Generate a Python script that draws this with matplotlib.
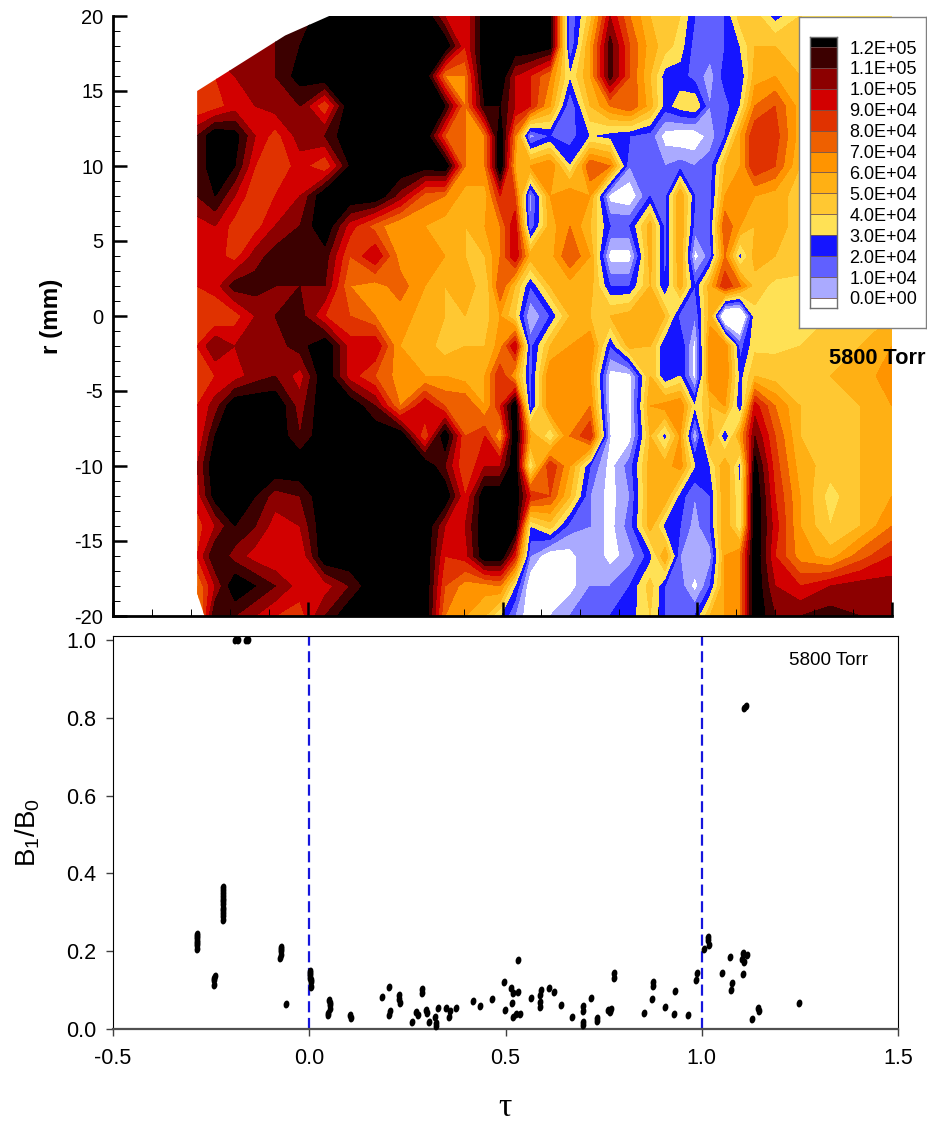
import numpy as np
import matplotlib
matplotlib.use('Agg')
import matplotlib.pyplot as plt
from matplotlib.colors import ListedColormap, BoundaryNorm
from matplotlib.patches import Polygon
from matplotlib.path import Path
from matplotlib.ticker import MultipleLocator
from matplotlib.transforms import Affine2D

plt.rcParams['font.family'] = ['Liberation Sans', 'DejaVu Sans']
plt.rcParams['axes.unicode_minus'] = False

W, H = 928, 1122

# contour grid, pressure in units of 1e4
tau_grid = [-0.284, -0.238, -0.187, -0.135, -0.084, -0.020, 0.044, 0.108, 0.173, 0.237, 0.301, 0.352,
            0.404, 0.455, 0.494, 0.532, 0.571, 0.622, 0.673, 0.725, 0.776, 0.827, 0.879, 0.917, 0.956,
            0.994, 1.033, 1.071, 1.110, 1.148, 1.200, 1.264, 1.341, 1.418, 1.500]
r_grid = [20, 18, 16, 14, 12, 10, 8, 6, 4, 2, 0, -2, -4, -6, -8, -10, -12, -14, -16, -18, -20]
p_grid = [
    [10, 10.5, 10.5, 10.5, 11, 11.5, 12.5, 13, 13, 13, 13, 10, 9, 13, 13, 13, 13, 12.5, 1, 4.5, 10, 7, 5, 4.5, 4, 2, 1.5, 2, 4.5, 4.5, 2.5, 4, 4, 4, 4],
    [10, 10.5, 10.5, 11, 11, 12, 12.3, 13, 13, 13, 13, 13, 9, 13, 13, 13, 13, 12.5, 1, 6, 11.5, 8, 5.5, 4.5, 3.5, 1.5, 1.5, 2, 3, 5, 5, 4.5, 4, 4, 4],
    [9, 9, 10, 10.5, 11, 12.5, 13, 13, 13, 13, 13, 7, 7, 13, 13, 10, 9, 7, 3, 6, 11.5, 8, 5, 2.5, 2.5, 1.5, 0.5, 2.5, 2, 5.5, 6, 5, 4.5, 4, 4],
    [8, 8.5, 9.5, 10, 10.5, 11, 8, 13, 13, 13, 13, 12, 7, 12, 12, 10, 9, 6, 1, 5, 7, 8, 5.5, 2.5, 3.5, 4, 1, 1.5, 3, 7, 8, 5.5, 4.5, 4, 4],
    [11, 13, 12.5, 10, 8.5, 10.5, 11, 13, 13, 13, 13, 8, 7, 7, 13, 7, 0.5, 2, 1.5, 3, 2.5, 2, 1.5, -0.5, -1, -1, 0.5, 2, 6, 9, 8.5, 5.5, 4.5, 4, 4],
    [11, 13, 12, 9, 8, 9.5, 8, 12, 13, 13, 12.5, 13, 7, 7, 13, 6, 6, 7, 3, 8, 7, 1, 1.5, 1, 1.5, 1, 1.5, 5, 6, 9, 8, 5, 4.5, 4, 4],
    [11, 12, 10, 8, 9, 10, 13, 13, 13, 10.5, 7.5, 7, 5.5, 5.5, 9, 8, 0.5, 6, 7, 6, -0.5, -1, 2, 1.5, 6, 2, 1.5, 6, 6.5, 6, 5.5, 4.5, 4, 4, 4],
    [9.5, 10, 8.5, 8.5, 10, 11, 13, 9.5, 7.5, 6, 6, 5.5, 5, 6, 7, 10, 1, 5.5, 7, 5, 2, 2, 5.5, 1.5, 6, 1.5, 2, 8, 6, 5, 5.5, 4.5, 4, 4, 4],
    [9.5, 9.5, 8.5, 10.5, 11.5, 11.5, 11.5, 8, 10, 6.5, 6.5, 6, 5, 5, 7, 10, 5.5, 5.5, 8, 6, -0.5, -0.5, 5.5, 1.5, 6, -0.5, 1.5, 7, 2.5, 5.5, 5, 4.5, 4, 4, 4],
    [9, 9.5, 11.5, 11.5, 11, 11, 11, 7, 6.5, 7.5, 6, 5, 6, 4, 8, 5, 2, 5, 5.5, 5.5, 2, 2, 5, 2, 5.5, 2, 5.5, 9, 7, 4.5, 3.7, 3.7, 3.8, 4, 4.5],
    [8, 8, 8.5, 10, 11, 11.5, 9, 8, 7, 6.5, 5.5, 5, 5, 4.5, 6, 4, 0, 2, 5, 5, 5, 5.5, 6, 5, 1.5, 1, 5.5, -3, -3, 3.7, 3.7, 3.7, 4, 4.5, 5],
    [9, 11, 10, 10.5, 10.5, 11.5, 13, 9.5, 10, 6, 5.5, 4.5, 5, 5, 6.5, 10, 1.5, 5, 6, 7, 2, 5.5, 5, 2, 3, -0.5, 7, 7, 1.5, 3.7, 3.8, 4, 4.5, 5, 6],
    [9, 9, 9.5, 10.5, 11, 9.5, 13, 9.5, 8, 6.5, 6, 6, 5.5, 6, 9, 6, 1.5, 7, 6.5, 6, -0.5, -0.5, 5, 2, 3, -0.5, 7, 7, 2.5, 5, 4.5, 4.5, 5, 5.5, 6.5],
    [9, 10.5, 13, 13, 13, 10.5, 13, 13, 11, 7, 10, 8, 8, 6, 9, 13, 1.5, 7, 7, 7, -0.5, -0.5, 6, 6.5, 7, 3, 5, 6, 2, 9.5, 7, 5, 4.5, 5, 6],
    [9, 12, 13, 13, 13, 11, 13, 13, 13, 13, 8, 13, 8, 9, 6, 13, 6, 3, 7, 9, 0, -0.5, 5, 2.5, 6, 0, 6, 2, 6, 11, 8, 5, 4.5, 5, 6],
    [10, 13, 13, 13, 13, 13, 13, 13, 13, 13, 13, 11, 8, 10, 10, 13, 3, 9, 6, 2, -0.5, 1.5, 5.5, 5.5, 6.5, 3, 3, 6, 2.5, 12.5, 8.5, 5.5, 4.5, 5, 6],
    [9.5, 12.5, 13, 12, 10.5, 11, 13, 13, 13, 13, 13, 13, 9, 13, 13, 13, 9, 8, 5, 1, -0.5, 1, 5.5, 6, 2.5, 1, 2, 6, 3, 13, 9, 6, 3.5, 5, 6],
    [8.5, 10, 12, 11, 9.5, 10, 13, 13, 13, 13, 13, 10, 10, 13, 13, 13, 3, 4.5, 1.5, 1, -0.5, 1.5, 5.5, 2.5, 2, 0.5, 2, 6, 3, 13, 9.5, 6, 4, 5, 7],
    [9, 12, 10.5, 9.5, 9, 9, 13, 13, 13, 13, 13, 9, 9.5, 13, 13, 9, 1, -1, -0.5, 1, -0.5, 0.5, 2.5, 6, 1, 1, 0.5, 6, 7, 13, 9, 6.5, 5.5, 7.5, 9],
    [7, 10, 13, 12, 11, 9.5, 9.5, 11, 13, 13, 13, 8, 6.5, 6.5, 7, 3, -1, -1, -0.5, 1, 1, 2, 4.5, 2, 1.5, -0.5, 2, 6, 7, 13, 10, 9, 10, 10.5, 10.5],
    [6, 12, 11, 10, 9, 8.5, 11, 13, 13, 13, 13, 7, 6, 5, 3, 1, -1, 0, 1, 2, 2, 2.5, 4, 2, 2, 2, 5, 6, 7, 13, 11, 11, 11.5, 11, 11],
]
outline_tau = [-0.284, -0.284, -0.058, 0.055, 1.5, 1.5, -0.265, -0.284]
outline_r = [-18.5, 15, 18.7, 20, 20, -20, -20, -18.5]

levels = np.arange(0, 13)
band_colors = ['#aaaaff', '#6060ff', '#1515ff', '#ffe155', '#ffc832', '#ffb014',
               '#ff9400', '#ee6000', '#e03200', '#d20000', '#8c0000', '#3c0000']
legend_labels = ['0.0E+00', '1.0E+04', '2.0E+04', '3.0E+04', '4.0E+04', '5.0E+04', '6.0E+04',
                 '7.0E+04', '8.0E+04', '9.0E+04', '1.0E+05', '1.1E+05', '1.2E+05']

# B1/B0 scatter, one list per axis
tau_pts = [-0.219, -0.219, -0.219, -0.220, -0.220, -0.221, -0.221,
           -0.286, -0.286, -0.286, -0.287, -0.287,
           -0.241, -0.242, -0.243, -0.071, -0.072, -0.073, -0.074, -0.060,
           0.002, 0.003, 0.003, 0.004, 0.004, 0.051, 0.052, 0.052, 0.047, 0.047,
           0.105, 0.107, 0.185, 0.203, 0.228, 0.229, 0.230, 0.206, 0.204, 0.288, 0.286,
           0.271, 0.278, 0.297, 0.301, 0.263, 0.305, 0.320, 0.322, 0.322, 0.327,
           0.349, 0.358, 0.355, 0.373, 0.416, 0.436, 0.465, 0.497, 0.498,
           0.514, 0.518, 0.517, 0.520, 0.528, 0.531, 0.531, 0.537, 0.566,
           0.591, 0.588, 0.589, 0.587, 0.612, 0.623, 0.641, 0.669,
           0.697, 0.697, 0.697, 0.697, 0.719, 0.732, 0.733, 0.761, 0.765, 0.768,
           0.777, 0.777, 0.854, 0.874, 0.876, 0.876, 0.906, 0.929, 0.931, 0.964,
           0.989, 0.986, 1.005, 1.016, 1.017, 1.018, 1.051, 1.071,
           1.076, 1.075, 1.105, 1.103, 1.107, 1.116, 1.105, 1.128, 1.144, 1.146, 1.247,
           -0.188, -0.182, -0.161, -0.155, 1.113, 1.108,
           -0.219, -0.220, -0.220, -0.221, -0.221, -0.286, -0.287,
           -0.242, -0.072, 0.003, 0.004, 0.052]
b_pts = [0.365, 0.350, 0.335, 0.320, 0.305, 0.290, 0.280,
         0.245, 0.235, 0.225, 0.215, 0.205,
         0.135, 0.125, 0.113, 0.210, 0.200, 0.190, 0.183, 0.065,
         0.150, 0.140, 0.130, 0.120, 0.108, 0.075, 0.062, 0.052, 0.040, 0.035,
         0.036, 0.027, 0.083, 0.107, 0.087, 0.078, 0.068, 0.046, 0.036, 0.103, 0.092,
         0.043, 0.037, 0.050, 0.040, 0.017, 0.019, 0.030, 0.015, 0.007, 0.054,
         0.053, 0.045, 0.032, 0.053, 0.073, 0.060, 0.076, 0.122, 0.050,
         0.105, 0.092, 0.068, 0.032, 0.038, 0.177, 0.095, 0.039, 0.079,
         0.100, 0.087, 0.070, 0.056, 0.105, 0.096, 0.062, 0.031,
         0.059, 0.047, 0.019, 0.010, 0.080, 0.027, 0.020, 0.050, 0.043, 0.052,
         0.143, 0.130, 0.042, 0.076, 0.122, 0.110, 0.057, 0.039, 0.097, 0.036,
         0.143, 0.126, 0.206, 0.237, 0.229, 0.216, 0.143, 0.184,
         0.119, 0.100, 0.195, 0.179, 0.173, 0.191, 0.141, 0.025, 0.053, 0.047, 0.066,
         1.000, 1.000, 1.000, 1.000, 0.830, 0.825,
         0.358, 0.343, 0.328, 0.312, 0.298, 0.240, 0.220,
         0.130, 0.205, 0.145, 0.125, 0.068]


def px_axes(fig, left, top, right, bottom):
    return fig.add_axes([left / W, 1 - bottom / H, (right - left) / W, (bottom - top) / H])


fig = plt.figure(figsize=(W / 100, H / 100), dpi=100)

cmap = ListedColormap(band_colors)
cmap.set_under('white')
cmap.set_over('black')
norm = BoundaryNorm(levels, cmap.N)

# contour panel
ax1 = px_axes(fig, 113, 16, 892, 616)
cs = ax1.contourf(tau_grid, r_grid, np.array(p_grid), levels=levels, cmap=cmap, norm=norm, extend='both')
outline = Polygon(np.column_stack([outline_tau, outline_r]), transform=ax1.transData)
cs.set_clip_path(outline)
ax1.set_xlim(-0.5, 1.5)
ax1.set_ylim(-20, 20)
ax1.spines['top'].set_visible(False)
ax1.spines['right'].set_visible(False)
ax1.spines['left'].set_linewidth(2)
ax1.spines['bottom'].set_linewidth(2)
ax1.xaxis.set_major_locator(MultipleLocator(0.5))
ax1.xaxis.set_minor_locator(MultipleLocator(0.1))
ax1.yaxis.set_major_locator(MultipleLocator(5))
ax1.yaxis.set_minor_locator(MultipleLocator(1))
ax1.tick_params(which='major', direction='in', length=10, width=1.8, labelsize=14.5, labelbottom=False, pad=7)
ax1.tick_params(which='minor', direction='in', length=5, width=0.7)
fig.text(52 / W, 1 - 316 / H, 'r (mm)', fontsize=17.5, fontweight='bold', rotation=90, ha='center', va='center')

# legend box with the colour bar inside
ax_box = px_axes(fig, 799, 17, 926, 328)
ax_box.set_xticks([])
ax_box.set_yticks([])
for s in ax_box.spines.values():
    s.set_color('#808080')
    s.set_linewidth(1)

ax_leg = px_axes(fig, 810, 37, 837, 308)
edges = np.concatenate([[-0.48], levels, [12.48]])
cell = np.arange(-1, 13) + 0.5
ax_leg.pcolormesh([0, 1], edges, cell.reshape(-1, 1), cmap=cmap, norm=norm)
for v in levels:
    ax_leg.axhline(v, color='#705050', lw=0.6)
ax_leg.set_ylim(edges[0], edges[-1])
ax_leg.set_xticks([])
ax_leg.yaxis.tick_right()
ax_leg.set_yticks(levels)
ax_leg.set_yticklabels(legend_labels, fontsize=13)
ax_leg.tick_params(axis='y', length=0, pad=9)
for s in ax_leg.spines.values():
    s.set_color('#707070')
    s.set_linewidth(1)

fig.text(926 / W, 1 - 359 / H, '5800 Torr', fontsize=15.7, fontweight='bold', ha='right', va='center')

# scatter panel
blob = Path.unit_circle().transformed(Affine2D().scale(0.72, 1).rotate(-0.2))
ax2 = px_axes(fig, 113, 636, 898, 1029)
ax2.axvline(0, color='#1515dd', lw=1.6, ls=(0, (5, 2.5)), zorder=2)
ax2.axvline(1, color='#1515dd', lw=1.6, ls=(0, (5, 2.5)), zorder=2)
ax2.scatter(tau_pts, b_pts, s=34, marker=blob, color='black', linewidths=0, zorder=3, clip_on=False)
ax2.set_xlim(-0.5, 1.5)
ax2.set_ylim(0, 1.01)
ax2.set_xticks([-0.5, 0, 0.5, 1.0, 1.5])
ax2.set_xticklabels(['-0.5', '0.0', '0.5', '1.0', '1.5'])
ax2.set_yticks([0, 0.2, 0.4, 0.6, 0.8, 1.0])
ax2.tick_params(direction='out', length=5, width=1, labelsize=15.5, color='#404040')
ax2.tick_params(axis='x', pad=9)
ax2.tick_params(axis='y', pad=7)
ax2.spines['bottom'].set_color('#505050')
ax2.spines['bottom'].set_linewidth(1.6)
ax2.text(0.911, 0.9385, '5800 Torr', transform=ax2.transAxes, fontsize=13.5, ha='center', va='center')
fig.text(28 / W, 1 - 832 / H, 'B$_{\\mathregular{1}}$/B$_{\\mathregular{0}}$', fontsize=20, rotation=90,
         ha='center', va='center')
fig.text(505 / W, 1 - 1108 / H, '\u03c4', fontsize=24, family=['Liberation Serif', 'DejaVu Serif'],
         ha='center', va='center')

fig.savefig('out.png', dpi=100)
